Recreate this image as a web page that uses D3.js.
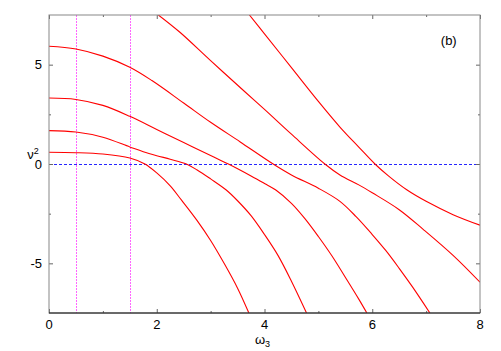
<!DOCTYPE html>
<html>
<head>
<meta charset="utf-8">
<script src="https://cdn.jsdelivr.net/npm/d3@7"></script>
<style>
  body { margin: 0; background: #fff; }
  text { font-family: "Liberation Sans", Arial, sans-serif; font-size: 13px; fill: #000; }
</style>
</head>
<body>
<div id="chart"></div>
<script>
var margin = { top: 15, right: 21, bottom: 38, left: 49 },
    width = 501 - margin.left - margin.right,
    height = 351 - margin.top - margin.bottom;

// branches of nu^2 against omega_3 (top to bottom)
let branchE = [[3.72, 7.5], [4.0, 6.55], [4.5, 4.85], [5.0, 3.15], [5.4, 1.86], [5.75, 0.85], [6.05, 0], [6.3, -0.6], [6.64, -1.3], [7.0, -1.88], [7.5, -2.55], [8.0, -3.08]]
let branchF = [[2.03, 7.5], [2.43, 6.63], [3.0, 5.2], [3.61, 3.7], [4.0, 2.75], [4.5, 1.5], [5.12, 0], [5.4, -0.55], [5.75, -1.05], [6.0, -1.45], [6.5, -2.3], [6.95, -3.3], [7.5, -4.6], [8.0, -5.95]]
let branchA = [[0, 5.93], [0.5, 5.79], [1.0, 5.43], [1.5, 4.87], [1.91, 4.2], [2.5, 3.07], [3.0, 2.1], [3.55, 1.11], [4.16, 0], [4.5, -0.55], [5.0, -1.22], [5.4, -1.88], [5.7, -2.65], [6.0, -3.55], [6.25, -4.35], [6.5, -5.25], [6.75, -6.2], [7.07, -7.5]]
let branchB = [[0, 3.32], [0.5, 3.25], [1.0, 2.95], [1.5, 2.4], [2.0, 1.74], [2.5, 1.08], [3.0, 0.43], [3.33, 0], [3.75, -0.6], [4.0, -0.98], [4.21, -1.31], [4.5, -1.98], [4.75, -2.75], [5.0, -3.65], [5.25, -4.62], [5.5, -5.7], [5.75, -6.8], [5.9, -7.5]]
let branchC = [[0, 1.68], [0.5, 1.61], [1.0, 1.35], [1.5, 0.86], [1.75, 0.62], [2.0, 0.42], [2.25, 0.24], [2.55, 0], [2.75, -0.3], [3.0, -0.75], [3.29, -1.31], [3.5, -1.85], [3.75, -2.6], [4.0, -3.55], [4.25, -4.6], [4.5, -5.9], [4.78, -7.5]]
let branchD = [[0, 0.59], [0.5, 0.57], [1.0, 0.5], [1.5, 0.3], [1.78, 0], [2.0, -0.45], [2.25, -1.1], [2.46, -1.82], [2.75, -2.85], [3.0, -3.85], [3.25, -5.0], [3.5, -6.25], [3.71, -7.5]]

let branches = [branchE, branchF, branchA, branchB, branchC, branchD]

// vertical markers and the zero line
let markerX = [0.5, 1.5]
let zeroY = 0

let xMajor = [0, 2, 4, 6, 8]
let xMinor = [1, 3, 5, 7]
let yMajor = [-5, 0, 5]
let yMinor = [-2.5, 2.5]

let xScale = d3.scaleLinear().domain([0, 8]).range([0, width])
let yScale = d3.scaleLinear().domain([-7.5, 7.5]).range([height, 0])

let svg = d3.select("#chart")
    .append("svg")
    .attr("width", 501)
    .attr("height", 351)
    .append("g")
    .attr("transform", "translate(" + margin.left + "," + margin.top + ")")

svg.append("clipPath")
    .attr("id", "clip")
    .append("rect")
    .attr("width", width)
    .attr("height", height)

// dotted guides
svg.selectAll(".marker")
    .data(markerX)
    .enter()
    .append("line")
    .attr("class", "marker")
    .attr("x1", d => Math.round(xScale(d)) + 0.5)
    .attr("x2", d => Math.round(xScale(d)) + 0.5)
    .attr("y1", 0)
    .attr("y2", height)
    .style("stroke", "#ff00ff")
    .style("stroke-opacity", 0.6)
    .style("stroke-width", 1)
    .style("stroke-dasharray", "2,1")

svg.append("line")
    .attr("x1", 0)
    .attr("x2", width)
    .attr("y1", Math.round(yScale(zeroY)) + 0.5)
    .attr("y2", Math.round(yScale(zeroY)) + 0.5)
    .style("stroke", "#0000ff")
    .style("stroke-opacity", 0.85)
    .style("stroke-width", 1)
    .style("stroke-dasharray", "3,2")

// curves
let line = d3.line()
    .x(d => xScale(d[0]))
    .y(d => yScale(d[1]))
    .curve(d3.curveCatmullRom.alpha(0.5))

svg.append("g")
    .attr("clip-path", "url(#clip)")
    .selectAll("path")
    .data(branches)
    .enter()
    .append("path")
    .attr("d", line)
    .style("fill", "none")
    .style("stroke", "#ff0000")
    .style("stroke-width", 1.1)

// axes, ticks point inwards on all four sides
function tickAxis(axis, size) {
    return axis.tickSizeInner(size).tickSizeOuter(0).tickFormat("")
}

svg.append("g")
    .attr("transform", "translate(0," + height + ")")
    .call(tickAxis(d3.axisTop(xScale).tickValues(xMajor), 4))
    .append("g").call(tickAxis(d3.axisTop(xScale).tickValues(xMinor), 2))

svg.append("g")
    .call(tickAxis(d3.axisBottom(xScale).tickValues(xMajor), 4))
    .append("g").call(tickAxis(d3.axisBottom(xScale).tickValues(xMinor), 2))

svg.append("g")
    .call(tickAxis(d3.axisRight(yScale).tickValues(yMajor), 4))
    .append("g").call(tickAxis(d3.axisRight(yScale).tickValues(yMinor), 2))

svg.append("g")
    .attr("transform", "translate(" + width + ",0)")
    .call(tickAxis(d3.axisLeft(yScale).tickValues(yMajor), 4))
    .append("g").call(tickAxis(d3.axisLeft(yScale).tickValues(yMinor), 2))

svg.selectAll(".domain").remove()
svg.selectAll(".tick line").style("stroke", "#666")

// frame
svg.append("rect")
    .attr("width", width)
    .attr("height", height)
    .style("fill", "none")
    .style("stroke", "#888")
svg.append("line")
    .attr("x1", 0).attr("x2", width)
    .attr("y1", height).attr("y2", height)
    .style("stroke", "#111")

// tick labels
svg.selectAll(".xlab")
    .data(xMajor)
    .enter()
    .append("text")
    .attr("class", "xlab")
    .attr("x", d => xScale(d))
    .attr("y", height + 16)
    .attr("text-anchor", "middle")
    .text(d => d)

svg.selectAll(".ylab")
    .data(yMajor)
    .enter()
    .append("text")
    .attr("class", "ylab")
    .attr("x", -7)
    .attr("y", d => yScale(d) + 4.5)
    .attr("text-anchor", "end")
    .text(d => d)

// axis titles
let xt = svg.append("text")
    .attr("x", width / 2 - 2)
    .attr("y", height + 31)
    .attr("text-anchor", "middle")
xt.append("tspan").text("ω")
xt.append("tspan").attr("dy", 3).attr("font-size", "9px").text("3")

let yt = svg.append("text")
    .attr("x", -16)
    .attr("y", yScale(0) - 5)
    .attr("text-anchor", "middle")
yt.append("tspan").text("ν")
yt.append("tspan").attr("dy", -5).attr("font-size", "9px").text("2")

svg.append("text")
    .attr("x", xScale(7.42))
    .attr("y", yScale(6.0))
    .attr("text-anchor", "middle")
    .text("(b)")
</script>
</body>
</html>
